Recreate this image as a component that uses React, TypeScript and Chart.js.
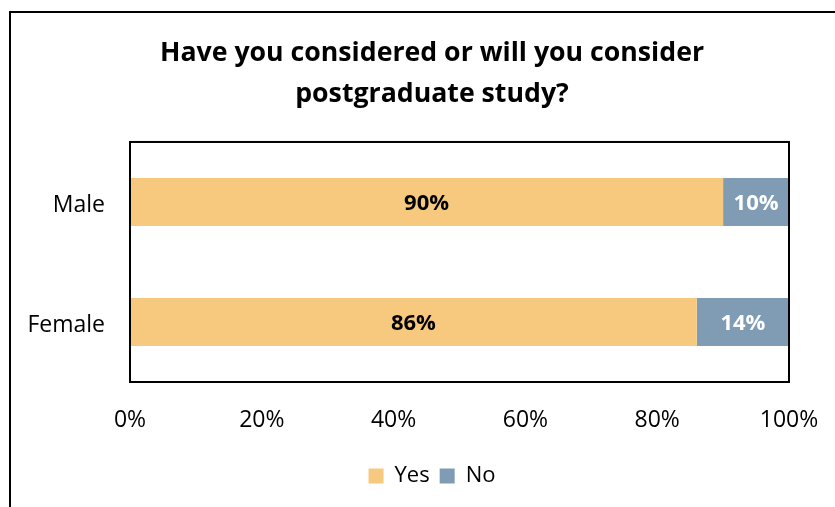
import React, { useEffect, useRef } from "react";
import { Chart, registerables } from "chart.js";

Chart.register(...registerables);

const titleLines = ["Have you considered or will you consider", "postgraduate study?"];
const categories = ["Male", "Female"];
const seriesNames = ["Yes", "No"];
const yesValues = [90, 86];
const noValues = [10, 14];
const xTickValues = [0, 20, 40, 60, 80, 100];

const YES_COLOR = "#F7C97F";
const NO_COLOR = "#7F9CB4";
const FONT = "'Open Sans', 'Noto Sans', sans-serif";

const plotBorderPlugin = {
  id: "plotBorder",
  afterDatasetsDraw(chart: any) {
    const { ctx, chartArea } = chart;
    ctx.save();
    ctx.strokeStyle = "#000";
    ctx.lineWidth = 2;
    ctx.strokeRect(chartArea.left, chartArea.top, chartArea.right - chartArea.left, chartArea.bottom - chartArea.top);
    ctx.restore();
  },
};

const barLabelPlugin = {
  id: "barLabels",
  afterDatasetsDraw(chart: any) {
    const { ctx } = chart;
    const size = 22;
    chart.data.datasets.forEach((ds: any, i: number) => {
      const meta = chart.getDatasetMeta(i);
      meta.data.forEach((bar: any, j: number) => {
        const { x, y, base } = bar.getProps(["x", "y", "base"], true);
        ctx.save();
        ctx.font = `bold ${size}px ${FONT}`;
        ctx.fillStyle = ds.labelColor;
        ctx.textAlign = "center";
        ctx.textBaseline = "alphabetic";
        ctx.fillText(`${ds.data[j]}%`, (x + base) / 2, y + size * 0.36);
        ctx.restore();
      });
    });
  },
};

export default function App() {
  const canvasRef = useRef<HTMLCanvasElement>(null);

  useEffect(() => {
    if (!canvasRef.current) return;
    const chart = new Chart(canvasRef.current, {
      type: "bar",
      data: {
        labels: categories,
        datasets: [
          {
            label: seriesNames[0],
            data: yesValues,
            backgroundColor: YES_COLOR,
            categoryPercentage: 0.5,
            barPercentage: 0.8,
            labelColor: "#000",
          } as any,
          {
            label: seriesNames[1],
            data: noValues,
            backgroundColor: NO_COLOR,
            categoryPercentage: 0.5,
            barPercentage: 0.8,
            labelColor: "#fff",
          } as any,
        ],
      },
      options: {
        indexAxis: "y",
        responsive: false,
        animation: false,
        layout: { padding: { top: 0, left: 0, right: 0, bottom: 10 } },
        scales: {
          x: {
            stacked: true,
            min: 0,
            max: 100,
            afterBuildTicks(scale: any) {
              scale.ticks = xTickValues.map((v) => ({ value: v }));
            },
            afterFit(scale: any) {
              scale.height = 73;
            },
            grid: { display: false, drawTicks: false },
            border: { display: false },
            ticks: {
              padding: 25,
              color: "#000",
              font: { family: FONT, size: 23 },
              callback: (v: any) => `${v}%`,
            },
          },
          y: {
            stacked: true,
            afterFit(scale: any) {
              scale.width = 119;
            },
            grid: { display: false, drawTicks: false },
            border: { display: false },
            ticks: {
              padding: 25,
              labelOffset: 3,
              color: "#000",
              font: { family: FONT, size: 23 },
            },
          },
          yRight: {
            type: "category",
            position: "right",
            labels: categories,
            afterFit(scale: any) {
              scale.width = 64;
            },
            grid: { display: false, drawTicks: false },
            border: { display: false },
            ticks: { display: false },
          },
        },
        plugins: {
          title: {
            display: true,
            text: titleLines,
            color: "#000",
            font: { family: FONT, size: 26.7, weight: "bold", lineHeight: 1.535 },
            padding: { top: 20, bottom: 27 },
          },
          legend: {
            position: "bottom",
            labels: {
              color: "#000",
              font: { family: FONT, size: 22 },
              boxWidth: 15,
              boxHeight: 15,
              padding: 10,
            },
          },
          tooltip: { enabled: false },
        },
      },
      plugins: [plotBorderPlugin, barLabelPlugin],
    });
    return () => chart.destroy();
  }, []);

  return (
    <div
      style={{
        position: "fixed",
        left: 0,
        top: 0,
        width: 835,
        height: 507,
        overflow: "hidden",
        background: "#fff",
      }}
    >
      <div
        style={{
          position: "absolute",
          left: 9,
          top: 11,
          width: 900,
          height: 600,
          borderLeft: "2px solid #000",
          borderTop: "2px solid #000",
        }}
      >
        <canvas ref={canvasRef} width={842} height={494} style={{ display: "block", width: 842, height: 494 }} />
      </div>
    </div>
  );
}
